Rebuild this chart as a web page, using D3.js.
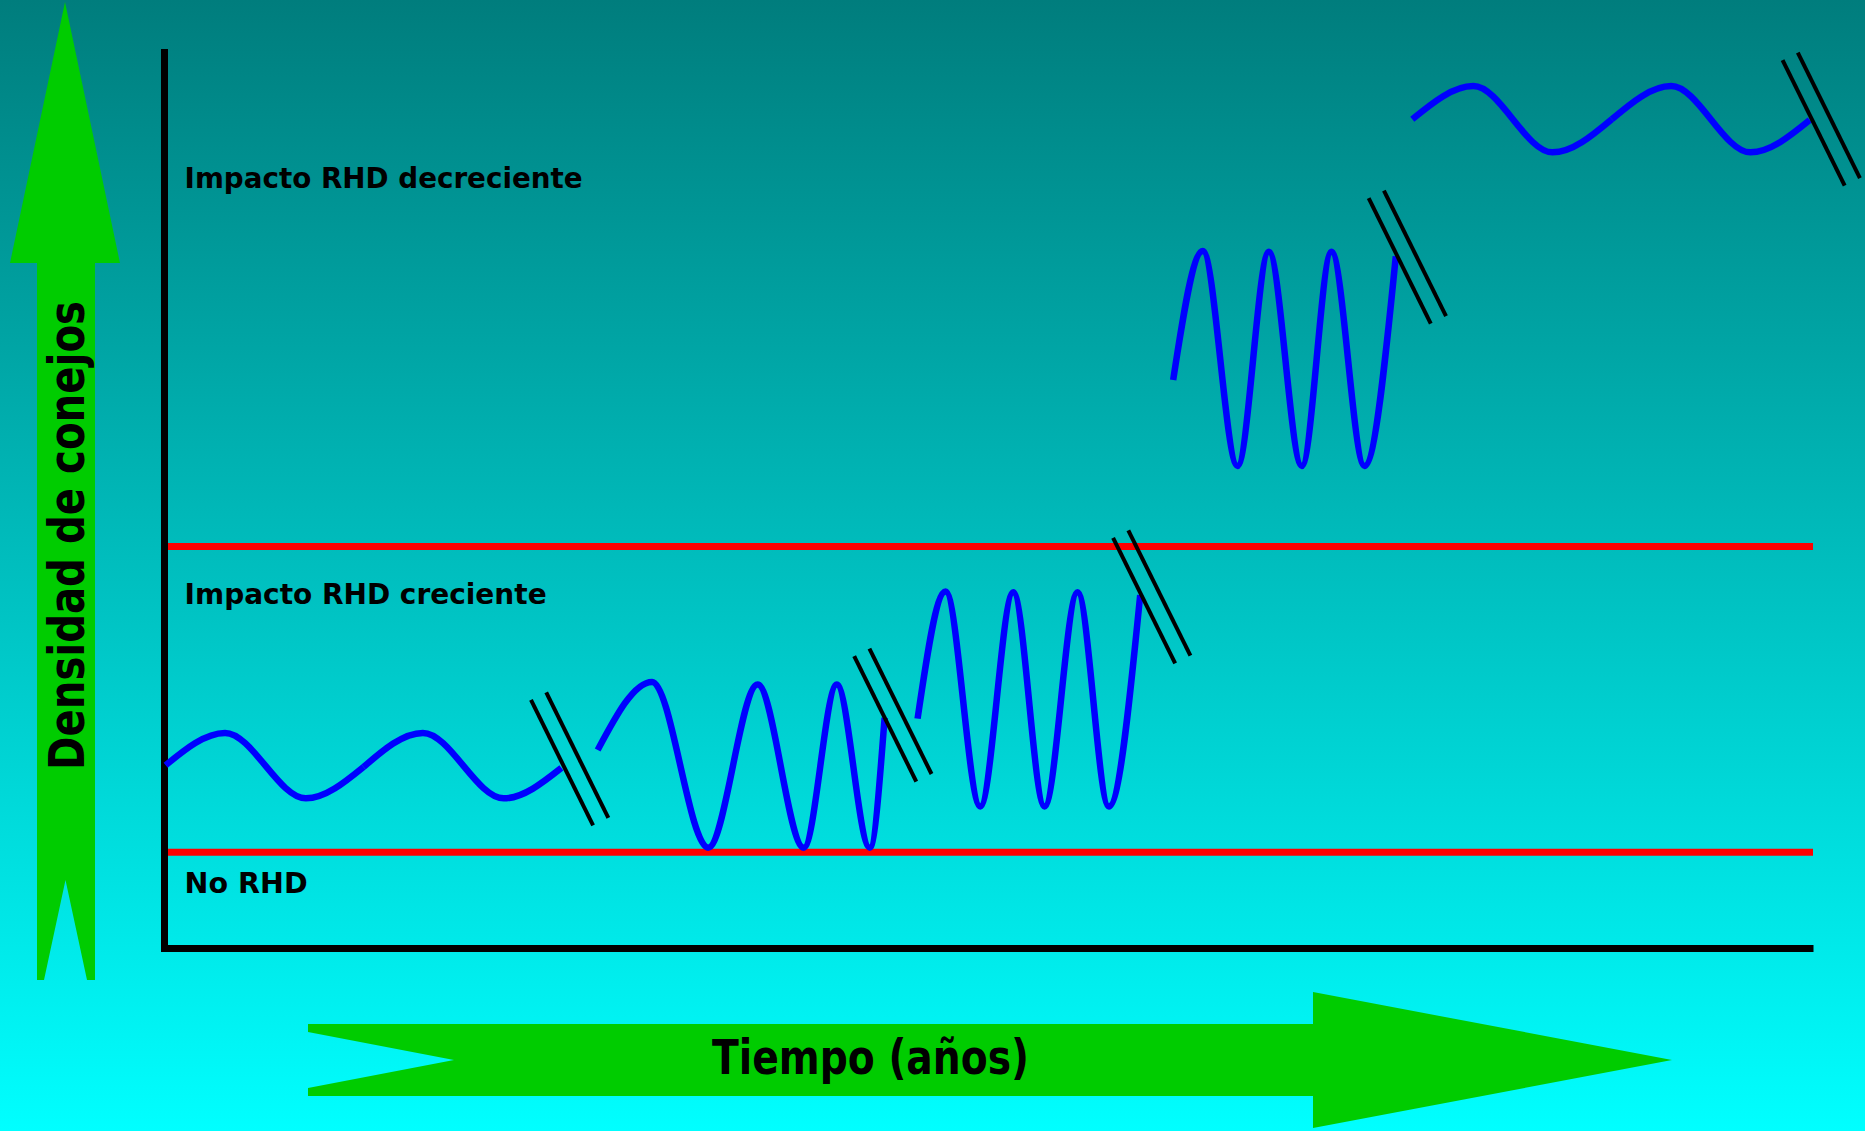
<!DOCTYPE html>
<html>
<head>
<meta charset="utf-8">
<script src="https://cdn.jsdelivr.net/npm/d3@7/dist/d3.min.js"></script>
<style>
  html, body { margin: 0; padding: 0; background: #00ffff; }
  svg { display: block; }
</style>
</head>
<body>
<script>
// ---------- DATA (time units 0-100, density units 0-100) ----------
const thresholds = [10.7, 44.8];               // red lines: No RHD / creciente / decreciente
const zoneLabels = ["Impacto RHD decreciente", "Impacto RHD creciente", "No RHD"];
const zoneLabelDensity = [84.8, 38.4, 6.1];
const zoneLabelWidths = [398, 362, 123];
const xTitle = "Tiempo (años)";
const yTitle = "Densidad de conejos";

// wave segments: [time, density]
const seg1a = [[0.1, 20.4], [3.7, 24.0], [8.6, 16.7], [12.1, 20.2]];
const seg1b = [[12.1, 20.2], [15.7, 24.0], [20.6, 16.7], [24.1, 20.1]];
const seg2  = [[26.3, 22.1], [29.6, 29.7], [33.0, 11.2], [36.0, 29.4], [38.8, 11.2], [40.8, 29.4], [42.8, 11.2], [43.7, 25.7]];
const seg3  = [[45.7, 25.6], [47.4, 39.8], [49.5, 15.8], [51.5, 39.7], [53.4, 15.8], [55.4, 39.7], [57.3, 15.8], [59.2, 39.4]];
const seg4  = [[61.2, 63.4], [63.0, 77.8], [65.1, 53.8], [67.0, 77.7], [69.0, 53.8], [70.8, 77.7], [72.8, 53.8], [74.7, 77.2]];
const seg5a = [[75.7, 92.5], [79.4, 96.2], [84.2, 88.8], [87.8, 92.5]];
const seg5b = [[87.8, 92.5], [91.4, 96.2], [96.2, 88.8], [99.8, 92.4]];
const segments = [seg1a, seg1b, seg2, seg3, seg4, seg5a, seg5b];

// break marks "//" centres
const breaks = [[24.6, 21.1], [44.2, 26.0], [59.9, 39.2], [75.4, 77.1], [100.5, 92.5]];

// ---------- LAYOUT ----------
const W = 1865, H = 1131;
const FONT = "'DejaVu Sans', 'Noto Sans', sans-serif";
const x = d3.scaleLinear().domain([0, 100]).range([164, 1813]);
const y = d3.scaleLinear().domain([0, 100]).range([948, 52]);

const svg = d3.select("body").append("svg").attr("width", W).attr("height", H);

// background gradient
const defs = svg.append("defs");
const grad = defs.append("linearGradient").attr("id", "bg")
  .attr("x1", 0).attr("y1", 0).attr("x2", 0).attr("y2", 1);
grad.append("stop").attr("offset", "0%").attr("stop-color", "#007d7d");
grad.append("stop").attr("offset", "100%").attr("stop-color", "#00ffff");
svg.append("rect").attr("width", W).attr("height", H).attr("fill", "url(#bg)");

// green arrows
const green = "#00cc00";
svg.append("polygon")
  .attr("points", [[65,2],[120,263],[95,263],[95,980],[87,980],[65.5,880],[44,980],[37,980],[37,263],[10,263]].join(" "))
  .attr("fill", green);
svg.append("polygon")
  .attr("points", [[308,1024],[1313,1024],[1313,992],[1672,1060],[1313,1128],[1313,1096],[308,1096],[308,1088],[454,1060],[308,1032]].join(" "))
  .attr("fill", green);

// axis titles
svg.append("text")
  .attr("transform", "translate(84,770) rotate(-90)")
  .attr("font-family", FONT).attr("font-weight", "bold").attr("font-size", 50)
  .attr("textLength", 469).attr("lengthAdjust", "spacingAndGlyphs")
  .attr("fill", "#000").text(yTitle);
svg.append("text")
  .attr("x", 712).attr("y", 1074)
  .attr("font-family", FONT).attr("font-weight", "bold").attr("font-size", 48)
  .attr("textLength", 317).attr("lengthAdjust", "spacingAndGlyphs")
  .attr("fill", "#000").text(xTitle);

// threshold lines
svg.selectAll("line.thr").data(thresholds).join("line").attr("class", "thr")
  .attr("x1", x(0)).attr("x2", x(100))
  .attr("y1", d => y(d)).attr("y2", d => y(d))
  .attr("stroke", "#ff0000").attr("stroke-width", 7);

// axes (no ticks)
const xAxis = svg.append("g").attr("transform", `translate(0,${y(0)})`)
  .call(d3.axisBottom(x).tickValues([]).tickSizeOuter(0));
const yAxis = svg.append("g").attr("transform", `translate(${x(0)},0)`)
  .call(d3.axisLeft(y).tickValues([]).tickSizeOuter(0));
xAxis.select(".domain").attr("stroke", "#000").attr("stroke-width", 7).attr("stroke-linecap", "butt");
yAxis.select(".domain").attr("stroke", "#000").attr("stroke-width", 7).attr("stroke-linecap", "square");

// zone labels
svg.selectAll("text.zone").data(zoneLabels).join("text").attr("class", "zone")
  .attr("x", x(1.25)).attr("y", (d, i) => y(zoneLabelDensity[i]))
  .attr("font-family", FONT).attr("font-weight", "bold").attr("font-size", 29)
  .attr("textLength", (d, i) => zoneLabelWidths[i]).attr("lengthAdjust", "spacingAndGlyphs")
  .attr("fill", "#000").text(d => d);

// waves
const line = d3.line().x(d => x(d[0])).y(d => y(d[1])).curve(d3.curveMonotoneX);
svg.selectAll("path.wave").data(segments).join("path").attr("class", "wave")
  .attr("d", line).attr("fill", "none")
  .attr("stroke", "#0000ff").attr("stroke-width", 6.5);

// break marks
const ux = 0.4436, uy = 0.8962, half = 70, sep = 8.5;
const breakLines = [];
breaks.forEach(b => {
  const cx = x(b[0]), cy = y(b[1]);
  [-1, 1].forEach(s => {
    const ox = cx + s * sep * uy, oy = cy - s * sep * ux;
    breakLines.push([ox - ux * half, oy - uy * half, ox + ux * half, oy + uy * half]);
  });
});
svg.selectAll("line.brk").data(breakLines).join("line").attr("class", "brk")
  .attr("x1", d => d[0]).attr("y1", d => d[1]).attr("x2", d => d[2]).attr("y2", d => d[3])
  .attr("stroke", "#000").attr("stroke-width", 4);
</script>
</body>
</html>
